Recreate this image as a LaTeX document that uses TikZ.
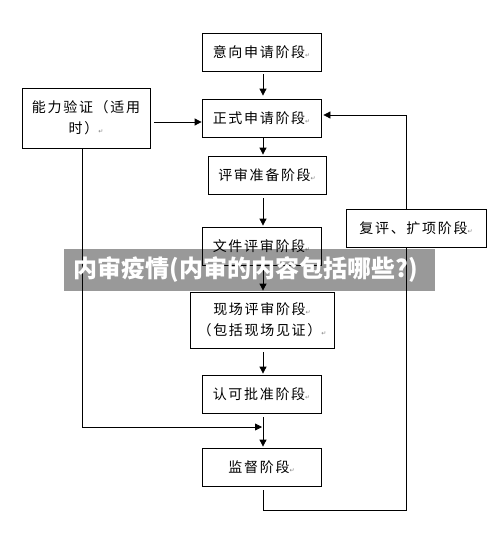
\documentclass[tikz,border=0pt]{standalone}
\usepackage{fontspec}
\usetikzlibrary{arrows.meta,calc}
\newfontfamily\cjk[LetterSpace=12]{Noto Sans CJK SC}
\newfontfamily\banfont{Noto Sans CJK SC}
\newfontfamily\dejavu{DejaVu Sans}
\newcommand\pmark{{\dejavu\fontsize{6}{6}\selectfont\textcolor{gray}{↵}}}
\tikzset{
  box/.style={draw=black, line width=0.8pt, fill=white, inner sep=0pt, align=center,
    font=\cjk\fontsize{14}{21}\selectfont},
  arr/.style={draw=black, line width=0.8pt, -{Triangle[width=7pt,length=7pt]}},
  ln/.style={draw=black, line width=0.8pt},
}
\begin{document}
\begin{tikzpicture}[x=1pt,y=-1pt]
\useasboundingbox[fill=white] (0,0) rectangle (500,541);
\coordinate (ax) at (263,0);
\coordinate (lx) at (82,0);
\node[box, minimum width=119pt, minimum height=38pt] (b1) at (261.5,52) {意向申请阶段\pmark};
\node[box, minimum width=119pt, minimum height=38pt] (b2) at (261.5,118) {正式申请阶段\pmark};
\node[box, minimum width=128pt, minimum height=60pt] (cap) at (86,118) {能力验证（适用\\时）\pmark};
\node[box, minimum width=118pt, minimum height=38pt] (b3) at (267,175) {评审准备阶段\pmark};
\node[box, minimum width=119pt, minimum height=38pt] (b4) at (261.5,246) {文件评审阶段\pmark};
\node[box, minimum width=144pt, minimum height=56pt] (b5) at (262,320) {现场评审阶段\pmark\\（包括现场见证）\pmark};
\node[box, minimum width=119pt, minimum height=38pt] (b6) at (261.5,394) {认可批准阶段\pmark};
\node[box, minimum width=119pt, minimum height=38pt] (b7) at (261.5,467) {监督阶段\pmark};
\coordinate (j) at (263,427);
\coordinate (rb) at (406,510);
\coordinate (rt) at (406,115);
\coordinate (cy) at (0,122);
% connectors
\draw[arr, shorten <=3pt, shorten >=3pt] (b1.south -| ax) -- (b2.north -| ax);
\draw[arr, shorten >=1pt] (b2.south -| ax) -- (b3.north -| ax);
\draw[arr, shorten <=4pt, shorten >=1pt] (b3.south -| ax) -- (b4.north -| ax);
\draw[arr, shorten >=1pt] (b4.south -| ax) -- (b5.north -| ax);
\draw[arr, shorten <=4pt, shorten >=1pt] (b5.south -| ax) -- (b6.north -| ax);
\draw[arr, shorten <=4pt, shorten >=1pt] (b6.south -| ax) -- (b7.north -| ax);
\draw[arr, shorten <=4pt] (cap.east |- cy) -- (b2.west |- cy);
\draw[arr, shorten >=1pt] (cap.south -| lx) |- (j);
\draw[arr, shorten >=2pt] (b7.south -| ax) ++(0,4) |- (rb) -- (rt) -- (b2.east |- rt);
\node[box, minimum width=140pt, minimum height=38pt] (rev) at (416,228) {复评、扩项阶段\pmark};
% banner overlay
\fill[black, opacity=0.4] (64,249) rectangle (435,291);
\node[text=white, inner sep=0pt, font=\banfont\bfseries\fontsize{24}{26}\selectfont] (ban) at (246,270) {内审疫情(内审的内容包括哪些?)};
\end{tikzpicture}
\end{document}
